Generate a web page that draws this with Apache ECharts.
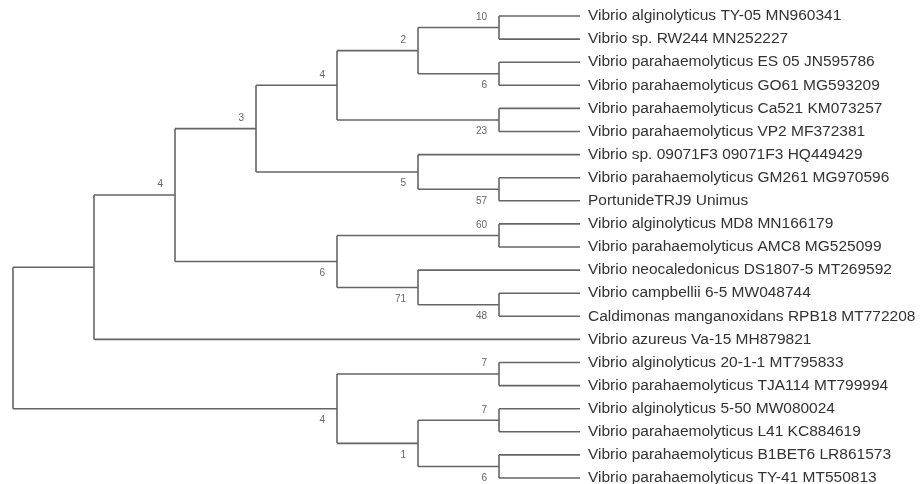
<!DOCTYPE html>
<html>
<head>
<meta charset="utf-8">
<script src="https://cdn.jsdelivr.net/npm/echarts@6/dist/echarts.min.js"></script>
<style>
html,body{margin:0;padding:0;background:#fff;}
#chart{width:923px;height:484px;}
</style>
</head>
<body>
<div id="chart"></div>
<script>
// Leaf (taxon) names, top to bottom
const leafNames = [
  'Vibrio alginolyticus TY-05 MN960341',
  'Vibrio sp. RW244 MN252227',
  'Vibrio parahaemolyticus ES 05 JN595786',
  'Vibrio parahaemolyticus GO61 MG593209',
  'Vibrio parahaemolyticus Ca521 KM073257',
  'Vibrio parahaemolyticus VP2 MF372381',
  'Vibrio sp. 09071F3 09071F3 HQ449429',
  'Vibrio parahaemolyticus GM261 MG970596',
  'PortunideTRJ9 Unimus',
  'Vibrio alginolyticus MD8 MN166179',
  'Vibrio parahaemolyticus AMC8 MG525099',
  'Vibrio neocaledonicus DS1807-5 MT269592',
  'Vibrio campbellii 6-5 MW048744',
  'Caldimonas manganoxidans RPB18 MT772208',
  'Vibrio azureus Va-15 MH879821',
  'Vibrio alginolyticus 20-1-1 MT795833',
  'Vibrio parahaemolyticus TJA114 MT799994',
  'Vibrio alginolyticus 5-50 MW080024',
  'Vibrio parahaemolyticus L41 KC884619',
  'Vibrio parahaemolyticus B1BET6 LR861573',
  'Vibrio parahaemolyticus TY-41 MT550813'
];
// Internal clades: names, children (numbers = leaf index, strings = clade), bootstrap support
const cladeNames    = ['a','b','c','d','e','f','g','h','i','j','k','l','m','n','o','p','q','r','s','root'];
const cladeChildren = [[0,1],[2,3],['a','b'],[4,5],['c','d'],[7,8],[6,'f'],['e','g'],
                       [9,10],[12,13],[11,'j'],['i','k'],['h','l'],['m',14],
                       [15,16],[17,18],[19,20],['p','q'],['o','r'],['n','s']];
const cladeSupport  = [10,6,2,23,4,57,5,3,60,48,71,6,4,null,7,7,6,1,4,null];

// ---- build layout values (tree topology -> data coordinates) ----
const info = {};
function nodeOf(ref){ return typeof ref === 'number' ? ('L'+ref) : ref; }
leafNames.forEach((n,i)=>{ info['L'+i] = {h:0, y:i}; });
function resolve(name){
  if (info[name]) return info[name];
  const idx = cladeNames.indexOf(name);
  const kids = cladeChildren[idx].map(c=>resolve(nodeOf(c)));
  const h = Math.max(...kids.map(k=>k.h)) + 1;
  const y = (kids[0].y + kids[kids.length-1].y)/2;
  info[name] = {h:h, y:y, kids: cladeChildren[idx].map(nodeOf), support: cladeSupport[idx]};
  return info[name];
}
const rootInfo = resolve('root');
const maxH = rootInfo.h;
const X = n => maxH - info[n].h;

const segments = [];   // [x1,y1,x2,y2]
const supportLabels = []; // [x,y,text,side]
cladeNames.forEach(name=>{
  const nd = info[name];
  const kids = nd.kids;
  const x = X(name);
  segments.push([x, info[kids[0]].y, x, info[kids[kids.length-1]].y]);
  kids.forEach((k,ki)=>{
    segments.push([x, info[k].y, X(k), info[k].y]);
    if (info[k].support !== undefined && info[k].support !== null) {
      supportLabels.push([X(k), info[k].y, String(info[k].support), ki === 0 ? -1 : 1]);
    }
  });
});
const leafData = leafNames.map((n,i)=>[maxH, i, n]);

const chart = echarts.init(document.getElementById('chart'), null, {renderer:'canvas'});
chart.setOption({
  animation:false,
  backgroundColor:'#ffffff',
  grid:{left:13, right:343, top:16, bottom:6},
  xAxis:{type:'value', min:0, max:maxH, show:false},
  yAxis:{type:'value', min:0, max:leafNames.length-1, inverse:true, show:false},
  series:[
    {
      type:'custom',
      data:segments,
      renderItem:function(params, api){
        const p1 = api.coord([api.value(0), api.value(1)]);
        const p2 = api.coord([api.value(2), api.value(3)]);
        return {type:'line', shape:{x1:p1[0], y1:p1[1], x2:p2[0], y2:p2[1]},
                style:{stroke:'#656565', lineWidth:1.6}};
      }
    },
    {
      type:'custom',
      data:supportLabels,
      renderItem:function(params, api){
        const p = api.coord([api.value(0), api.value(1)]);
        const side = api.value(3);
        return {type:'text', x:p[0]-12, y:p[1] + (side < 0 ? -10.5 : 11.5),
                style:{text:String(supportLabels[params.dataIndex][2]), fill:'#666', fontSize:10,
                       fontFamily:'Liberation Sans, Arial, sans-serif', align:'right', verticalAlign:'middle'}};
      }
    },
    {
      type:'custom',
      data:leafData,
      renderItem:function(params, api){
        const p = api.coord([api.value(0), api.value(1)]);
        return {type:'text', x:p[0]+8, y:p[1],
                style:{text:leafData[params.dataIndex][2], fill:'#333', fontSize:15.5,
                       fontFamily:'Liberation Sans, Arial, sans-serif', align:'left', verticalAlign:'middle'}};
      }
    }
  ]
});
</script>
</body>
</html>
